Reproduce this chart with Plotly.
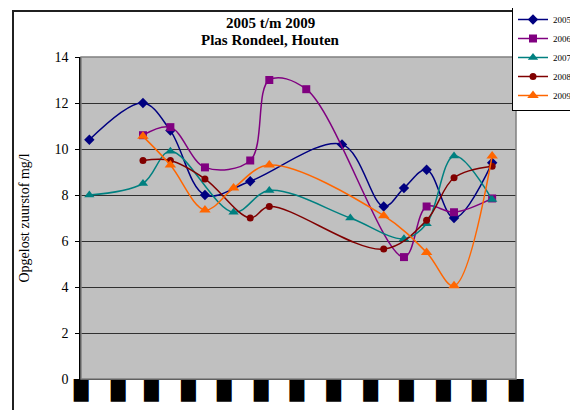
import plotly.graph_objects as go

BASE_YEAR = 2005

years = ["2005", "2006", "2007", "2008", "2009"]

dates_2005 = ["01-08", "02-22", "03-17", "04-15", "05-23", "08-08", "09-12", "09-29", "10-18", "11-10", "12-12"]
vals_2005 = [10.4, 12.0, 10.8, 8.0, 8.6, 10.2, 7.5, 8.3, 9.1, 7.0, 9.4]

dates_2006 = ["02-22", "03-17", "04-15", "05-23", "06-08", "07-09", "09-29", "10-18", "11-10", "12-12"]
vals_2006 = [10.6, 10.95, 9.2, 9.5, 13.0, 12.6, 5.3, 7.5, 7.25, 7.85]

dates_2007 = ["01-08", "02-22", "03-17", "05-09", "06-08", "08-15", "09-29", "10-18", "11-10", "12-12"]
vals_2007 = [8.0, 8.5, 9.9, 7.25, 8.2, 7.0, 6.1, 6.75, 9.7, 7.8]

dates_2008 = ["02-22", "03-17", "04-15", "05-23", "06-08", "09-12", "10-18", "11-10", "12-12"]
vals_2008 = [9.5, 9.5, 8.7, 7.0, 7.5, 5.65, 6.9, 8.75, 9.25]

dates_2009 = ["02-22", "03-17", "04-15", "05-09", "06-08", "09-12", "10-18", "11-10", "12-12"]
vals_2009 = [10.55, 9.3, 7.35, 8.3, 9.3, 7.1, 5.5, 4.05, 9.7]

month_ticks = ["01-01", "02-01", "03-01", "04-01", "05-01", "06-01", "07-01",
               "08-01", "09-01", "10-01", "11-01", "12-01"]
tick_labels = ["█"] * 13

title_line1 = "2005 t/m 2009"
title_line2 = "Plas Rondeel, Houten"
y_title = "Opgelost zuurstof mg/l"

colors = ["#000080", "#800080", "#008080", "#800000", "#FF6600"]
symbols = ["diamond", "square", "triangle-up", "circle", "triangle-up"]
msizes = [8, 8, 9, 7, 10]

series = [
    (dates_2005, vals_2005),
    (dates_2006, vals_2006),
    (dates_2007, vals_2007),
    (dates_2008, vals_2008),
    (dates_2009, vals_2009),
]


def to_date(md):
    return f"{BASE_YEAR}-{md}"


fig = go.Figure()
for name, (d, v), c, s, ms in zip(years, series, colors, symbols, msizes):
    fig.add_trace(go.Scatter(
        x=[to_date(m) for m in d], y=v, name=name, mode="lines+markers",
        line=dict(color=c, width=1.5, shape="spline", smoothing=1.0),
        marker=dict(symbol=s, size=ms, color=c),
    ))

tickvals = [to_date(m) for m in month_ticks] + [f"{BASE_YEAR + 1}-01-01"]

serif = "Liberation Serif"

fig.update_layout(
    width=578, height=410,
    margin=dict(l=73, r=70, t=49, b=39, autoexpand=False),
    paper_bgcolor="white",
    plot_bgcolor="#C0C0C0",
    font=dict(family=serif, color="black", size=13),
    showlegend=True,
    legend=dict(
        x=(504 - 73) / 435, xanchor="left",
        y=(371 + 4) / 322, yanchor="top",
        bordercolor="black", borderwidth=1, bgcolor="white",
        font=dict(family=serif, size=9, color="black"),
        tracegroupgap=0, itemsizing="trace",
    ),
    xaxis=dict(
        type="date",
        range=[f"{BASE_YEAR}-01-01", f"{BASE_YEAR + 1}-01-01"],
        tickmode="array", tickvals=tickvals, ticktext=tick_labels,
        tickfont=dict(family="DejaVu Sans", size=19, color="black"),
        ticks="outside", ticklen=4, tickcolor="black", tickwidth=1,
        ticklabelstandoff=-10,
        showline=True, linecolor="black", linewidth=1,
        showgrid=False, zeroline=False,
    ),
    yaxis=dict(
        range=[0, 14], dtick=2, tick0=0,
        ticks="outside", ticklen=4, tickcolor="black", tickwidth=1,
        ticklabelstandoff=4,
        showline=True, linecolor="black", linewidth=1.5,
        showgrid=True, gridcolor="#303030", gridwidth=1,
        zeroline=False,
        tickfont=dict(family=serif, size=14, color="black"),
        title=dict(text=y_title, standoff=22,
                   font=dict(family=serif, size=14, color="black")),
    ),
    annotations=[
        dict(text=f"<b>{title_line1}</b>", xref="paper", yref="paper",
             x=(262 - 73) / 435, y=(371 - 15) / 322, xanchor="center", yanchor="middle",
             showarrow=False, font=dict(family=serif, size=15, color="black")),
        dict(text=f"<b>{title_line2}</b>", xref="paper", yref="paper",
             x=(262 - 73) / 435, y=(371 - 32) / 322, xanchor="center", yanchor="middle",
             showarrow=False, font=dict(family=serif, size=15, color="black")),
    ],
    shapes=[
        dict(type="rect", xref="paper", yref="paper", x0=0, y0=0, x1=1, y1=1,
             line=dict(color="#808080", width=1.5), layer="above"),
        dict(type="rect", xref="paper", yref="paper",
             x0=(5 - 73) / 435, y0=(371 - 409) / 322,
             x1=(590 - 73) / 435, y1=(371 - 3) / 322,
             line=dict(color="#202020", width=2), layer="above"),
    ],
)

fig.write_html("out.html")
